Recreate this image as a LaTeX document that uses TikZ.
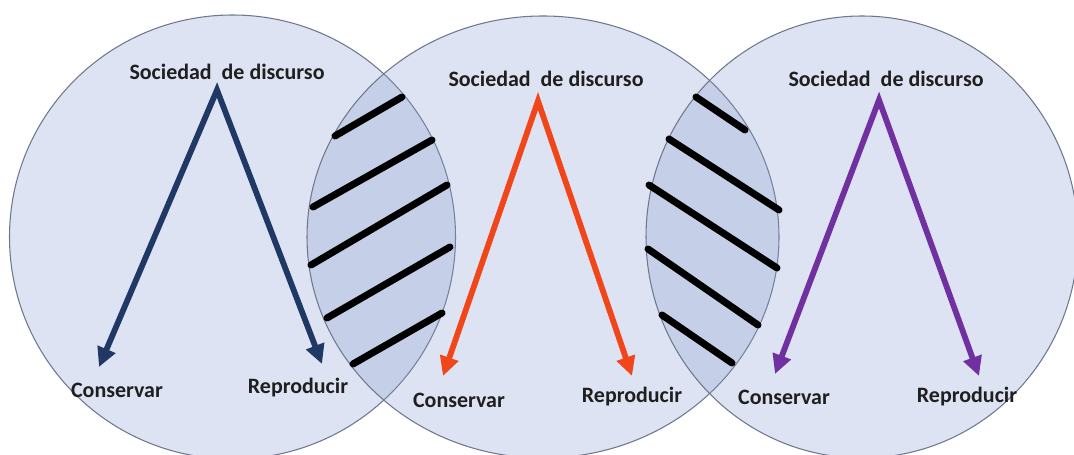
\documentclass[tikz,border=0pt]{standalone}
\usepackage{fontspec}
\setmainfont{Carlito}
\usepackage{tikz}
\usetikzlibrary{arrows.meta}
\definecolor{ringfill}{RGB}{133,155,207}
\definecolor{ringline}{RGB}{110,120,140}
\definecolor{navyblue}{RGB}{31,56,100}
\definecolor{redorange}{RGB}{240,70,25}
\definecolor{darkviolet}{RGB}{112,48,160}

\begin{document}
\begin{tikzpicture}[x=0.02cm,y=-0.02cm,
  ring/.style={draw=ringline,line width=0.6pt,fill=ringfill,fill opacity=0.27},
  hatchline/.style={line width=4pt,line cap=round},
  branch/.style={line width=3.3pt,line join=miter,
    {Triangle[length=11pt,width=10.5pt]}-{Triangle[length=11pt,width=10.5pt]}},
  txt/.style={font=\bfseries\fontsize{12.5}{15}\selectfont,text=black!88,inner sep=0pt}]
\useasboundingbox (0,0) rectangle (1074,455);
\fill[white] (0,0) rectangle (1074,455);
% the three circles
\path[ring] (232.5,237) ellipse [x radius=223,y radius=222];
\path[ring] (543,237) ellipse [x radius=236,y radius=221];
\path[ring] (862,237) ellipse [x radius=216,y radius=221];
% hatching in the two overlaps
\foreach \xa/\ya/\xb/\yb in {335/136/402/97, 313/207/432/140, 311/265/447/185,
                   327/318/450/247, 353/364/442/313,
                   696/97/745/130, 669/139/779/210, 649/185/777/268,
                   648/249/758/325, 662/315/732/363}
  \draw[hatchline] (\xa,\ya) -- (\xb,\yb);
% left circle
\node[txt] (soc1) at (227,72) {Sociedad~ de discurso};
\node[txt] (con1) at (117,390) {Conservar};
\node[txt] (rep1) at (298,388) {Reproducir};
\coordinate (top1) at (217,90);
\coordinate (con1tip) at (99,367);
\coordinate (rep1tip) at (322,364);
\draw[branch,navyblue] (con1tip) -- (top1) -- (rep1tip);
% middle circle
\node[txt] (soc2) at (546,79) {Sociedad~ de discurso};
\node[txt] (con2) at (459,400) {Conservar};
\node[txt] (rep2) at (632,397) {Reproducir};
\coordinate (top2) at (538,101);
\coordinate (con2tip) at (443,376);
\coordinate (rep2tip) at (632,376);
\draw[branch,redorange] (con2tip) -- (top2) -- (rep2tip);
% right circle
\node[txt] (soc3) at (886,79) {Sociedad~ de discurso};
\node[txt] (con3) at (784,397) {Conservar};
\node[txt] (rep3) at (967,397) {Reproducir};
\coordinate (top3) at (879,100);
\coordinate (con3tip) at (775,374);
\coordinate (rep3tip) at (979,376);
\draw[branch,darkviolet] (con3tip) -- (top3) -- (rep3tip);
\end{tikzpicture}
\end{document}
